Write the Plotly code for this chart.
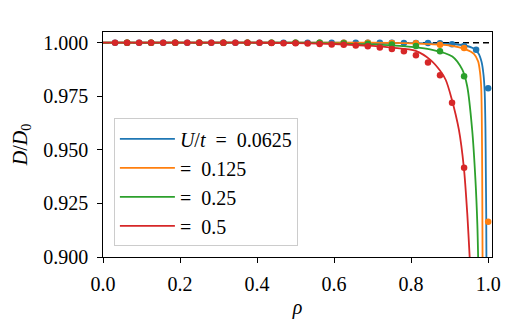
import plotly.graph_objects as go

# ---------------- data ----------------
labels = ["<i>U</i>/<i>t</i>\u2002=\u20020.0625", "=\u20020.125", "=\u20020.25", "=\u20020.5"]
colors = ["#1f77b4", "#ff7f0e", "#2ca02c", "#d62728"]

# theory curves
blue_x = [0.0, 0.6, 0.8, 0.9, 0.94, 0.96, 0.975, 0.983, 0.988, 0.991, 0.993, 0.994, 0.995, 0.9955]
blue_y = [1.0, 1.0, 0.9998, 0.9994, 0.9987, 0.9975, 0.995, 0.991, 0.985, 0.977, 0.96, 0.94, 0.92, 0.9]

orange_x = [0.0, 0.7, 0.85, 0.9, 0.94, 0.963, 0.974, 0.979, 0.982, 0.9835, 0.9845, 0.985, 0.9855]
orange_y = [1.0, 1.0, 0.9993, 0.9987, 0.997, 0.9948, 0.9913, 0.986, 0.979, 0.965, 0.94, 0.92, 0.9]

green_x = [0.0, 0.5, 0.6, 0.7, 0.77, 0.855, 0.907, 0.933, 0.9456, 0.9585, 0.967, 0.972, 0.974]
green_y = [1.0, 1.0, 0.9997, 0.9992, 0.9985, 0.9967, 0.9936, 0.9874, 0.9797, 0.9594, 0.936, 0.915, 0.9]

red_x = [0.0, 0.4, 0.5, 0.6, 0.7, 0.75, 0.812, 0.85, 0.875, 0.89, 0.905, 0.924, 0.937, 0.9456, 0.952]
red_y = [1.0, 1.0, 0.9998, 0.9994, 0.9985, 0.9977, 0.9962, 0.992, 0.987, 0.9826, 0.974, 0.9594, 0.9416, 0.9207, 0.9]

# simulation points
blue_px = [0.03125, 0.0625, 0.09375, 0.125, 0.15625, 0.1875, 0.21875, 0.25, 0.28125, 0.3125,
           0.34375, 0.375, 0.40625, 0.4375, 0.46875, 0.5, 0.53125, 0.5625, 0.59375, 0.625,
           0.65625, 0.6875, 0.71875, 0.75, 0.78125, 0.8125, 0.84375, 0.875, 0.90625, 0.9375,
           0.96875, 1.0]
blue_py = [1.0, 1.0, 1.0, 1.0, 1.0, 1.0, 1.0, 1.0, 1.0, 1.0,
           1.0, 1.0, 1.0, 1.0, 1.0, 1.0, 1.0, 1.0, 1.0, 1.0,
           1.0, 1.0, 1.0, 1.0, 0.9999, 0.9999, 0.9999, 0.9998, 0.9993, 0.9985,
           0.9967, 0.9787]

orange_px = [0.0625, 0.125, 0.1875, 0.25, 0.3125, 0.375, 0.4375, 0.5, 0.5625, 0.625,
             0.6875, 0.75, 0.8125, 0.875, 0.9375, 1.0]
orange_py = [1.0, 1.0, 1.0, 1.0, 1.0, 1.0, 1.0, 1.0, 1.0, 1.0,
             1.0, 0.9999, 0.9998, 0.999, 0.9975, 0.9164]

green_px = [0.0625, 0.125, 0.1875, 0.25, 0.3125, 0.375, 0.4375, 0.5, 0.5625, 0.625,
            0.6875, 0.75, 0.8125, 0.875, 0.9375]
green_py = [1.0, 1.0, 1.0, 1.0, 1.0, 1.0, 1.0, 1.0, 1.0, 0.9998,
            0.9995, 0.9992, 0.9985, 0.996, 0.9843]

red_px = [0.03125, 0.0625, 0.09375, 0.125, 0.15625, 0.1875, 0.21875, 0.25, 0.28125, 0.3125,
          0.34375, 0.375, 0.40625, 0.4375, 0.46875, 0.5, 0.53125, 0.5625, 0.59375, 0.625,
          0.65625, 0.6875, 0.71875, 0.75, 0.78125, 0.8125, 0.84375, 0.875, 0.90625, 0.9375]
red_py = [1.0, 1.0, 1.0, 1.0, 1.0, 1.0, 1.0, 1.0, 1.0, 1.0,
          1.0, 1.0, 1.0, 0.9999, 0.9998, 0.9997, 0.9996, 0.9994, 0.9992, 0.999,
          0.9987, 0.9983, 0.9978, 0.9971, 0.996, 0.9941, 0.9908, 0.9848, 0.972, 0.9416]

ref_x = [0.0, 1.01]
ref_y = [1.0, 1.0]

x_ticks = [0.0, 0.2, 0.4, 0.6, 0.8, 1.0]
x_ticklabels = ["0.0", "0.2", "0.4", "0.6", "0.8", "1.0"]
y_ticks = [0.9, 0.925, 0.95, 0.975, 1.0]
y_ticklabels = ["0.900", "0.925", "0.950", "0.975", "1.000"]

# ---------------- figure ----------------
FONT = "Liberation Serif, Times New Roman, serif"
fig = go.Figure()

fig.add_trace(go.Scatter(x=ref_x, y=ref_y, mode="lines", showlegend=False,
                         line=dict(color="black", width=1.5, dash="6px,4px")))

curves = [(blue_x, blue_y), (orange_x, orange_y), (green_x, green_y), (red_x, red_y)]
points = [(blue_px, blue_py), (orange_px, orange_py), (green_px, green_py), (red_px, red_py)]

for i, ((cx, cy), (px, py), c, lab) in enumerate(zip(curves, points, colors, labels)):
    fig.add_trace(go.Scatter(x=cx, y=cy, mode="lines", name=lab, legendgroup=f"g{i}",
                             line=dict(color=c, width=1.8, shape="spline", smoothing=0.8)))
    fig.add_trace(go.Scatter(x=px, y=py, mode="markers", showlegend=False, legendgroup=f"g{i}",
                             marker=dict(color=c, size=6.5, line=dict(width=0))))

axis_common = dict(showline=True, linecolor="black", linewidth=1.3, mirror=True,
                   ticks="outside", ticklen=4.5, tickwidth=1.2, tickcolor="black",
                   showgrid=False, zeroline=False, automargin=False,
                   tickfont=dict(family=FONT, size=20, color="black"))

fig.update_xaxes(range=[0, 1.01], tickvals=x_ticks, ticktext=x_ticklabels,
                 ticklabelstandoff=4,
                 title=dict(text="<i>ρ</i>", font=dict(family=FONT, size=20, color="black"),
                            standoff=6),
                 **axis_common)
fig.update_yaxes(range=[0.9, 1.005], tickvals=y_ticks, ticktext=y_ticklabels,
                 ticklabelstandoff=5,
                 title=dict(text="<i>D</i>/<i>D</i><sub>0</sub>",
                            font=dict(family=FONT, size=20, color="black"), standoff=10),
                 **axis_common)

fig.update_layout(
    width=519, height=321,
    margin=dict(l=103, r=27, t=32, b=64),
    plot_bgcolor="white", paper_bgcolor="white",
    font=dict(family=FONT, color="black"),
    legend=dict(x=0.028, y=0.047, xanchor="left", yanchor="bottom",
                bgcolor="rgba(255,255,255,0.8)", bordercolor="#cccccc", borderwidth=1,
                font=dict(family=FONT, size=20, color="black"),
                traceorder="grouped", tracegroupgap=0, itemwidth=55),
)

fig.write_html("out.html")
